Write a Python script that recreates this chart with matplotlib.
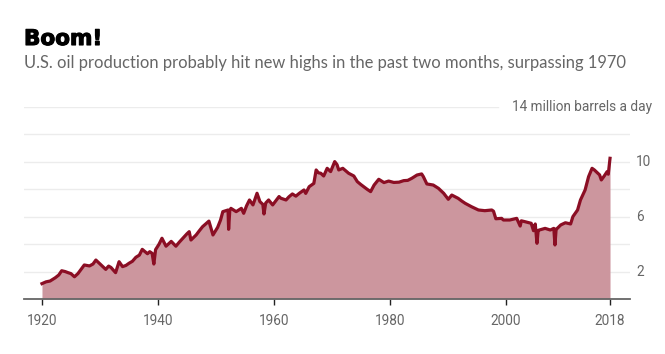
import matplotlib
matplotlib.use("Agg")
import matplotlib.pyplot as plt
import matplotlib.transforms as mtransforms
import matplotlib.patheffects as pe

# U.S. crude oil production, million barrels a day
years = [1920.0, 1920.7, 1921.4, 1922.3, 1922.9, 1923.4, 1924.0, 1924.5, 1925.0, 1925.6,
         1926.2, 1926.8, 1927.3, 1928.2, 1928.8, 1929.3, 1930.2, 1931.0, 1931.5, 1931.9,
         1932.7, 1933.3, 1933.9, 1934.5, 1935.0, 1935.6, 1936.2, 1936.8, 1937.3, 1938.2,
         1938.6, 1939.0, 1939.3, 1939.6, 1940.2, 1940.7, 1941.4, 1942.3, 1943.1, 1943.7,
         1944.3, 1945.0, 1945.4, 1945.7, 1946.6, 1947.1, 1947.7, 1948.8, 1949.5, 1950.3,
         1950.8, 1951.2, 1952.1, 1952.2, 1952.4, 1952.6, 1953.5, 1954.4, 1954.8, 1955.3,
         1955.8, 1956.4, 1957.1, 1957.6, 1958.1, 1958.3, 1958.6, 1959.1, 1959.8, 1960.4,
         1960.9, 1961.2, 1962.1, 1962.6, 1963.2, 1963.8, 1964.4, 1965.2, 1965.5, 1966.1,
         1966.9, 1967.3, 1967.7, 1968.1, 1968.6, 1969.2, 1969.8, 1970.2, 1970.5, 1970.9,
         1971.2, 1971.9, 1972.4, 1972.9, 1973.8, 1974.4, 1975.0, 1975.5, 1976.1, 1976.7,
         1977.3, 1978.1, 1979.0, 1979.8, 1980.7, 1981.6, 1982.4, 1983.1, 1983.8, 1984.7,
         1985.5, 1985.8, 1986.4, 1987.5, 1988.4, 1989.3, 1990.1, 1990.7, 1991.8, 1992.4,
         1993.0, 1994.1, 1995.3, 1996.4, 1997.6, 1997.9, 1998.3, 1999.3, 1999.6, 2000.7,
         2001.9, 2002.5, 2002.7, 2003.3, 2004.4, 2004.8, 2005.1, 2005.4, 2005.6, 2005.8,
         2006.8, 2007.7, 2008.3, 2008.5, 2008.7, 2008.9, 2009.5, 2010.3, 2011.2, 2011.6,
         2012.4, 2012.9, 2013.7, 2014.3, 2014.9, 2015.3, 2016.2, 2016.5, 2017.0, 2017.5,
         2017.7, 2018.0]
production = [1.12, 1.25, 1.31, 1.55, 1.75, 2.06, 2.0, 1.92, 1.85, 1.62,
              1.85, 2.2, 2.48, 2.41, 2.55, 2.84, 2.48, 2.16, 2.4, 2.3,
              1.92, 2.72, 2.36, 2.45, 2.6, 2.75, 3.04, 3.2, 3.62, 3.3,
              3.45, 3.33, 2.55, 3.6, 4.0, 4.43, 3.85, 4.2, 3.85, 4.15,
              4.43, 4.75, 4.91, 4.3, 4.67, 4.95, 5.27, 5.68, 4.67, 5.22,
              5.75, 6.37, 6.49, 5.08, 6.45, 6.61, 6.37, 6.61, 6.25, 6.8,
              7.22, 6.86, 7.71, 7.1, 6.9, 6.2, 7.0, 7.22, 6.86, 7.2,
              7.47, 7.35, 7.22, 7.45, 7.66, 7.5, 7.71, 7.95, 7.7, 8.19,
              8.43, 9.41, 9.2, 9.17, 8.97, 9.53, 9.29, 9.7, 10.02, 9.8,
              9.41, 9.53, 9.35, 9.17, 8.97, 8.56, 8.35, 8.19, 8.0, 7.83,
              8.31, 8.73, 8.49, 8.6, 8.5, 8.52, 8.63, 8.65, 8.8, 9.04,
              9.12, 8.92, 8.39, 8.31, 8.07, 7.71, 7.27, 7.58, 7.34, 7.15,
              6.98, 6.73, 6.49, 6.44, 6.49, 6.4, 5.85, 5.88, 5.76, 5.76,
              5.88, 5.32, 5.7, 5.64, 5.52, 4.98, 5.47, 4.06, 5.0, 5.03,
              5.15, 5.03, 5.15, 3.94, 5.1, 5.15, 5.4, 5.56, 5.47, 6.01,
              6.49, 7.22, 7.95, 8.92, 9.53, 9.41, 9.05, 8.68, 8.97, 9.29,
              9.1, 10.26]

x_ticks = [1920, 1940, 1960, 1980, 2000, 2018]
grid_levels = [2, 4, 6, 8, 10, 12]
y_labels = [2, 6, 10]

line_color = "#8b0e24"
fill_color = "#cc969e"
text_gray = "#666666"

fig = plt.figure(figsize=(6.65, 3.54), dpi=100)
ax = fig.add_axes([0.0361, 0.1554, 0.9113, 0.5423])

ax.fill_between(years, production, 0, color=fill_color, linewidth=0, zorder=2)
ax.plot(years, production, color=line_color, linewidth=2.3, solid_joinstyle="round", zorder=3)

# light horizontal gridlines, the top one stops short of its label
for level in grid_levels:
    ax.axhline(level, color="#ececec", linewidth=1, zorder=1)
ax.axhline(14, xmax=0.782, color="#ececec", linewidth=1, zorder=1)

ax.set_xlim(1916.9, 2021.45)
ax.set_ylim(0, 14)

for s in ["top", "right", "left"]:
    ax.spines[s].set_visible(False)
ax.spines["bottom"].set_color("#666666")
ax.spines["bottom"].set_linewidth(1.3)

ax.set_yticks([])
ax.set_xticks(x_ticks)
ax.set_xticklabels([str(t) for t in x_ticks], fontsize=9.8, color=text_gray, family="Roboto")
ax.tick_params(axis="x", direction="out", length=4, width=1, color="#222222", pad=7)

# value labels on the right
trans = mtransforms.blended_transform_factory(ax.transAxes, ax.transData)
for v in y_labels:
    ax.text(1.0099, v, str(v), transform=trans, ha="left", va="center",
            fontsize=9.8, color=text_gray, family="Roboto")
ax.text(1.036, 14, "14 million barrels a day", transform=trans, ha="right", va="center",
        fontsize=9.8, color=text_gray, family="Roboto")

fig.text(24 / 665, 1 - 45 / 354, "Boom!", fontsize=15.5, fontweight="bold",
         family="DejaVu Sans", color="black", ha="left", va="baseline",
         path_effects=[pe.withStroke(linewidth=0.8, foreground="black")])
fig.text(24 / 665, 1 - 63 / 354, "U.S. oil production probably hit new highs in the past two months, surpassing 1970",
         fontsize=11.9, family="Lato", color=text_gray, ha="left", va="center")

fig.savefig("out.png", dpi=100, facecolor="white")
